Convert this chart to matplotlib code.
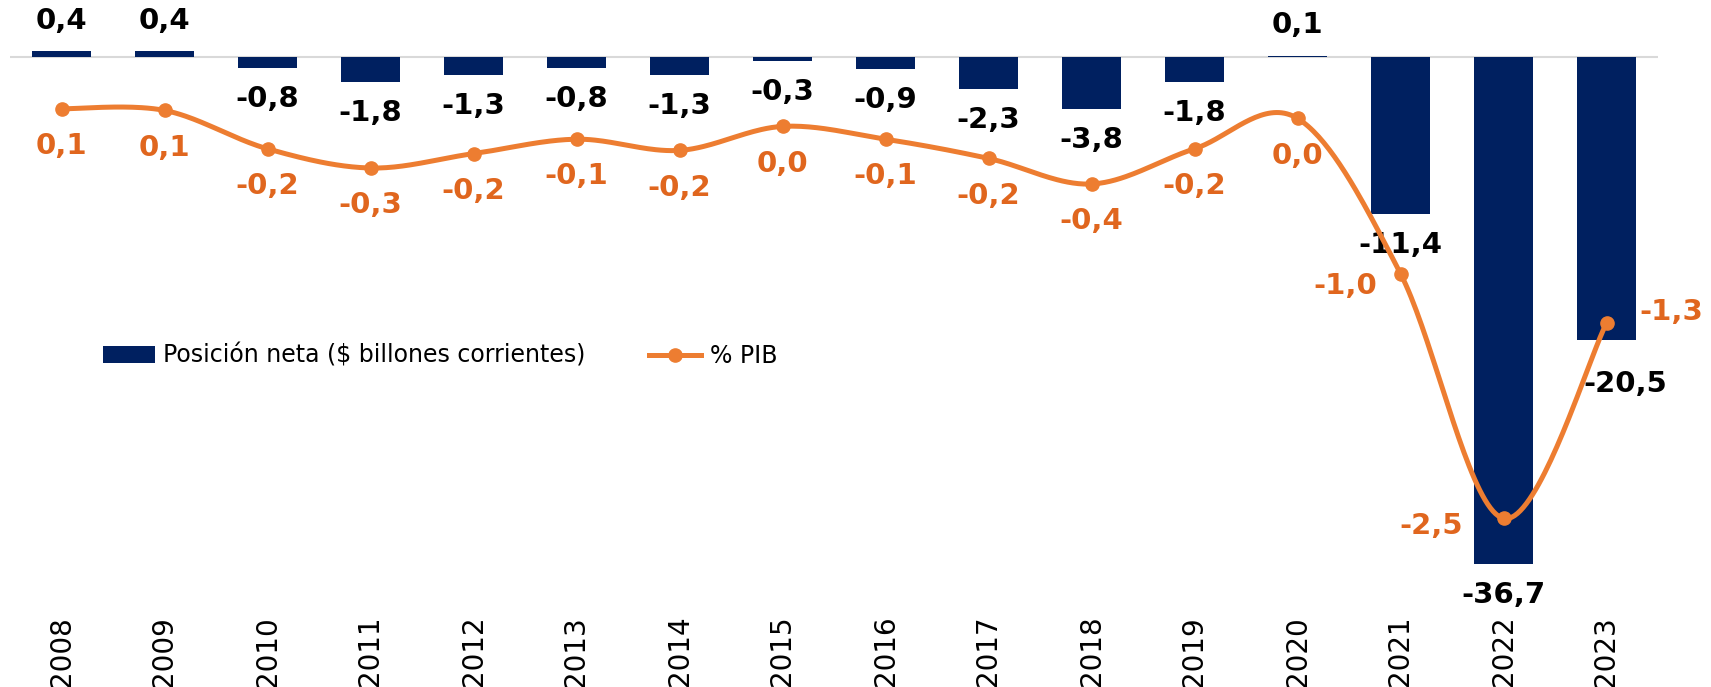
import numpy as np
import matplotlib
matplotlib.use('Agg')
import matplotlib.pyplot as plt
from matplotlib.patches import Patch
from matplotlib.lines import Line2D

# datos
years = ['2008', '2009', '2010', '2011', '2012', '2013', '2014', '2015',
         '2016', '2017', '2018', '2019', '2020', '2021', '2022', '2023']
posicion_neta = [0.4, 0.4, -0.8, -1.8, -1.3, -0.8, -1.3, -0.3,
                 -0.9, -2.3, -3.8, -1.8, 0.1, -11.4, -36.7, -20.5]
pct_pib = [0.07, 0.06, -0.18, -0.30, -0.21, -0.12, -0.19, -0.04,
           -0.12, -0.24, -0.40, -0.18, 0.01, -0.96, -2.49, -1.27]

NAVY = '#002060'
ORANGE = '#ED7D31'
ORANGE_TXT = '#E0661E'

W, H = 1711, 687


def fmt(v):
    return f'{round(v, 1) + 0.0:.1f}'.replace('.', ',')


def smooth(x, y, n=40):
    """Curva suavizada tipo Excel (Catmull-Rom en Bezier)"""
    p = np.column_stack([x, y]).astype(float)
    p = np.vstack([p[0], p, p[-1]])
    out = []
    t = np.linspace(0, 1, n)[:, None]
    for i in range(1, len(p) - 2):
        p0, p1, p2, p3 = p[i - 1], p[i], p[i + 1], p[i + 2]
        c1 = p1 + (p2 - p0) / 6
        c2 = p2 - (p3 - p1) / 6
        seg = ((1 - t) ** 3) * p1 + 3 * ((1 - t) ** 2) * t * c1 + 3 * (1 - t) * t ** 2 * c2 + t ** 3 * p2
        out.append(seg if i == 1 else seg[1:])
    out = np.vstack(out)
    return out[:, 0], out[:, 1]


fig = plt.figure(figsize=(W / 100, H / 100), dpi=100)
# area del grafico en pixeles
left_px, right_px, top_px, bot_px = 10, 1658, 10, 570
ax = fig.add_axes([left_px / W, 1 - bot_px / H, (right_px - left_px) / W, (bot_px - top_px) / H])
ax2 = ax.twinx()

x = np.arange(len(years))

# eje principal: cero en y=57px, 13.81 px por unidad
zero1, k1 = 57, 13.81
ax.set_ylim(-(bot_px - zero1) / k1, (zero1 - top_px) / k1)
# eje secundario: cero en y=120px, 160 px por unidad
zero2, k2 = 120, 160
ax2.set_ylim(-(bot_px - zero2) / k2, (zero2 - top_px) / k2)
ax.set_xlim(-0.5, len(years) - 0.5)

ax.axhline(0, color='#D9D9D9', lw=1.5, zorder=0)
ax.bar(x, posicion_neta, width=0.57, color=NAVY, zorder=2)

xs, ys = smooth(x, pct_pib)
ax2.plot(xs, ys, color=ORANGE, lw=3.6, solid_capstyle='round', zorder=3)
ax2.plot(x, pct_pib, 'o', color=ORANGE, ms=9.5, zorder=4)

# etiquetas de barras
for i, v in enumerate(posicion_neta):
    dx, dy = 0, (22 if v > 0 else -22.3)
    if years[i] == '2023':
        dx, dy = 13.7, -31.7
    ax.annotate(fmt(v), xy=(i, v), xytext=(dx, dy), textcoords='offset points',
                ha='center', va='center', fontsize=21, fontweight='bold', color='black', zorder=5)

# etiquetas de la linea
lbl_off = {'2021': (-39.6, -8.6), '2022': (-52, -5.8), '2023': (47, 8)}
for i, v in enumerate(pct_pib):
    dx, dy = lbl_off.get(years[i], (0, -26.8))
    ax2.annotate(fmt(v), xy=(i, v), xytext=(dx, dy), textcoords='offset points',
                 ha='center', va='center', fontsize=21, fontweight='bold', color=ORANGE_TXT, zorder=5)

ax.set_xticks(x)
ax.set_xticklabels(years, rotation=90, fontsize=20)
ax.tick_params(axis='x', length=0, pad=33)
ax.set_yticks([])
ax2.set_yticks([])
for a in (ax, ax2):
    for s in a.spines.values():
        s.set_visible(False)

handles = [Patch(facecolor=NAVY, edgecolor='none'),
           Line2D([0], [0], color=ORANGE, lw=3.6, marker='o', ms=9.5)]
fig.legend(handles, ['Posición neta ($ billones corrientes)', '% PIB'],
           loc='center left', bbox_to_anchor=(103 / W, 1 - 356 / H), ncol=2, frameon=False,
           fontsize=17, borderpad=0, borderaxespad=0, handlelength=2.2, handletextpad=0.35,
           columnspacing=2.7)

fig.savefig('out.png', dpi=100)
